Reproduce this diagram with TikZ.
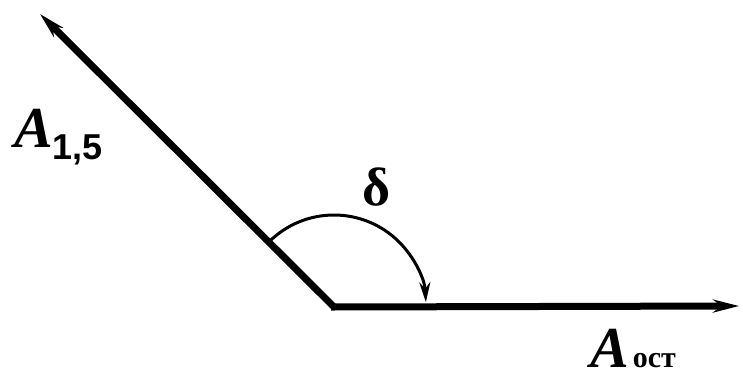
\documentclass[tikz,border=0pt]{standalone}
\usepackage{fontspec}
\setmainfont{Liberation Serif}
\setsansfont{Liberation Sans}
\usetikzlibrary{arrows.meta}
\colorlet{vector line}{black}
\tikzset{vector/.style={draw=vector line, line width=7pt,
        -{Stealth[length=26pt,width=13pt]}},
      anglearc/.style={draw=vector line, line width=3pt,
        -{Stealth[length=20pt,width=11pt]}},
      label/.style={inner sep=0pt, font=\fontsize{58}{58}\selectfont\bfseries\itshape}}

\begin{document}
\begin{tikzpicture}[x=1pt,y=-1pt]
    \useasboundingbox (0,0) rectangle (743,381);
    \coordinate (O)   at (334,307);
    \coordinate (tip) at (40,14);
    \coordinate (end) at (739,306);
    \draw[vector] (O) -- (tip);
    \draw[vector] ([xshift=-3pt]O) -- (end);
    \draw[anglearc] (O) ++(-135:92) arc[start angle=-135, end angle=-3, radius=92];
    \node[label, anchor=base west] (A15) at (14,147)
      {A\lower12pt\hbox{\fontsize{36}{36}\selectfont\sffamily\bfseries\upshape 1,5}};
    \node[label, anchor=base west] (Aost) at (590,367)
      {A\kern4pt{\fontsize{30}{30}\selectfont\upshape ост}};
    \node[inner sep=0pt, font=\fontsize{54}{54}\selectfont\bfseries, anchor=base] (delta) at (377,205) {δ};
\end{tikzpicture}
\end{document}
